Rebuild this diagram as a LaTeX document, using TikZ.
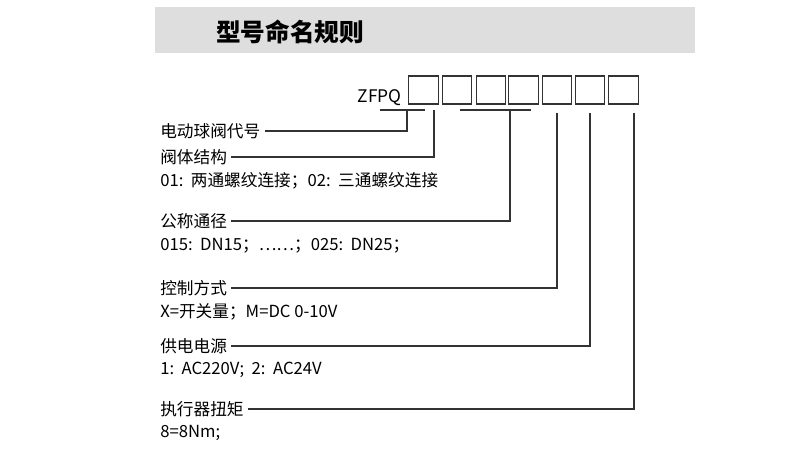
\documentclass[tikz,border=0pt]{standalone}
\usepackage{fontspec}
\setmainfont{Noto Sans CJK SC}
\usetikzlibrary{positioning}
\tikzset{
	digit box/.style={draw=black!80,line width=0.9pt,minimum width=22pt,minimum height=21pt,inner sep=0pt},
	item text/.style={anchor=west,font=\fontsize{12.5}{14}\selectfont,inner sep=0pt},
	lead line/.style={draw=black!80,line width=0.8pt}
}
\newcommand{\gap}{\hspace{0.45em}}
\begin{document}
\begin{tikzpicture}[x=0.75pt,y=-0.75pt]
	\useasboundingbox (0,0) rectangle (800,449);
	\fill[black!13] (155,7) rectangle (695,53);
	\node [font=\fontsize{18.5}{20}\selectfont\bfseries] (title) at (290,32) {型号命名规则};
	% code boxes
	\foreach \i/\x in {1/423.5,2/457,3/491,4/523.5,5/557,6/590,7/623.5}
	  \node [digit box] (b\i) at (\x,90) {};
	\node [item text,anchor=east,font=\fontsize{13}{14}\selectfont] (zfpq) at (402,98) {ZFPQ};
	% labels
	\node [item text] (n1) at (160,131) {电动球阀代号};
	\node [item text] (n2) at (160,157) {阀体结构};
	\node [item text] (d2) at (160,181) {01:\gap 两通螺纹连接；02:\gap 三通螺纹连接};
	\node [item text] (n3) at (160,221) {公称通径};
	\node [item text] (d3) at (160,246) {015:\gap DN15；……；025:\gap DN25；};
	\node [item text] (n4) at (160,288) {控制方式};
	\node [item text] (d4) at (160,312) {X=开关量；M=DC 0-10V};
	\node [item text] (n5) at (160,346) {供电电源};
	\node [item text] (d5) at (160,370) {1:\gap AC220V;\gap 2:\gap AC24V};
	\node [item text] (n6) at (160,409) {执行器扭矩};
	\node [item text] (d6) at (160,433) {8=8Nm;};
	% leaders
	\coordinate (u1) at (407,110);
	\coordinate (u2) at (434,110);
	\coordinate (u3) at (510,110);
	\draw [lead line] (380,110) -- (425,110);
	\draw [lead line] (460,110) -- (531,110);
	\draw [lead line] (u1) |- ([xshift=3pt]n1.east);
	\draw [lead line] (u2) |- ([xshift=3pt]n2.east);
	\draw [lead line] (u3) |- ([xshift=3pt]n3.east);
	\draw [lead line] ([yshift=-6pt]b5.south) |- ([xshift=3pt]n4.east);
	\draw [lead line] ([yshift=-6pt]b6.south) |- ([xshift=3pt]n5.east);
	\draw [lead line] ([yshift=-6pt]b7.south -| 634,0) |- ([xshift=3pt]n6.east);
\end{tikzpicture}
\end{document}
